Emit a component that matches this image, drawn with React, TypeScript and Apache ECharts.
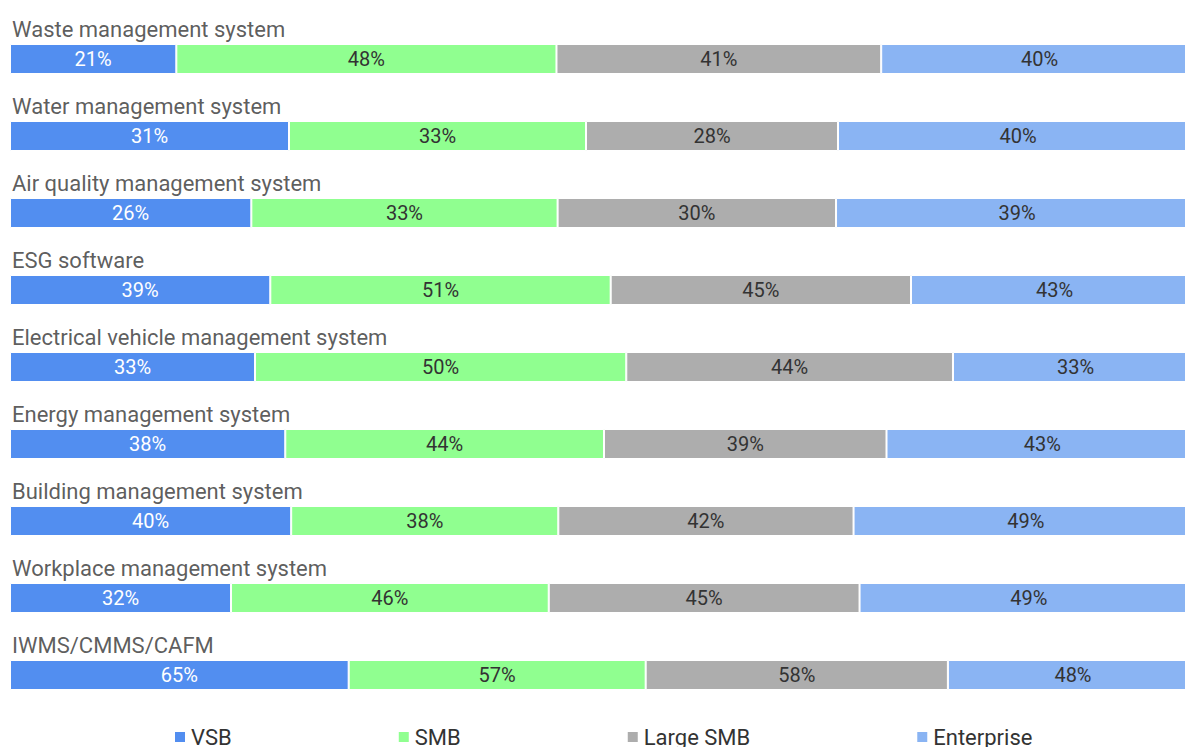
import React, { useEffect, useRef } from "react";
import * as echarts from "echarts";

const categories = [
  "Waste management system",
  "Water management system",
  "Air quality management system",
  "ESG software",
  "Electrical vehicle management system",
  "Energy management system",
  "Building management system",
  "Workplace management system",
  "IWMS/CMMS/CAFM",
];
const seriesNames = ["VSB", "SMB", "Large SMB", "Enterprise"];
const vsb = [21, 31, 26, 39, 33, 38, 40, 32, 65];
const smb = [48, 33, 33, 51, 50, 44, 38, 46, 57];
const largeSmb = [41, 28, 30, 45, 44, 39, 42, 45, 58];
const enterprise = [40, 40, 39, 43, 33, 43, 49, 49, 48];
const colors = ["#528ef0", "#90ff90", "#adadad", "#8ab4f3"];
const labelColors = ["#ffffff", "#333333", "#333333", "#333333"];

export default function App() {
  const ref = useRef<HTMLDivElement>(null);
  useEffect(() => {
    document.documentElement.style.overflow = "hidden";
    const chart = echarts.init(ref.current!, null, { renderer: "svg" });
    const raw = [vsb, smb, largeSmb, enterprise];
    const totals = categories.map((_, i) => raw.reduce((s, arr) => s + arr[i], 0));
    const series: any[] = raw.map((arr, k) => ({
      name: seriesNames[k],
      type: "bar",
      stack: "total",
      barWidth: 30,
      itemStyle: { color: colors[k], borderColor: "#ffffff", borderWidth: 1 },
      label: {
        show: true,
        position: "inside",
        color: labelColors[k],
        fontSize: 20,
        fontFamily: "Roboto",
        formatter: (p: any) => arr[p.dataIndex] + "%",
      },
      data: arr.map((v, i) => v / totals[i]),
    }));
    series.push({
      name: "titles",
      type: "scatter",
      symbolSize: 0,
      silent: true,
      z: 10,
      label: {
        show: true,
        position: "right",
        distance: 2,
        offset: [0, -30],
        color: "#333333",
        fontSize: 22,
        fontFamily: "Roboto",
        formatter: (p: any) => categories[p.dataIndex],
      },
      data: categories.map((_, i) => [0, i]),
    });
    chart.setOption({
      animation: false,
      textStyle: { fontFamily: "Roboto" },
      grid: { left: 2, top: 12.5, width: 1188, height: 693, containLabel: false },
      xAxis: { type: "value", min: 0, max: 1, show: false },
      yAxis: {
        type: "category",
        inverse: true,
        data: categories,
        axisLine: { show: false },
        axisTick: { show: false },
        axisLabel: { show: false },
      },
      legend: {
        data: seriesNames,
        top: 713,
        left: 160,
        icon: "rect",
        itemWidth: 12,
        itemHeight: 12,
        itemGap: 165,
        textStyle: { fontSize: 22, color: "#333333", fontFamily: "Roboto" },
      },
      series,
    });
    return () => chart.dispose();
  }, []);
  return (
    <div
      ref={ref}
      style={{ position: "absolute", left: 8, top: 8, width: 1200, height: 760 }}
    />
  );
}
